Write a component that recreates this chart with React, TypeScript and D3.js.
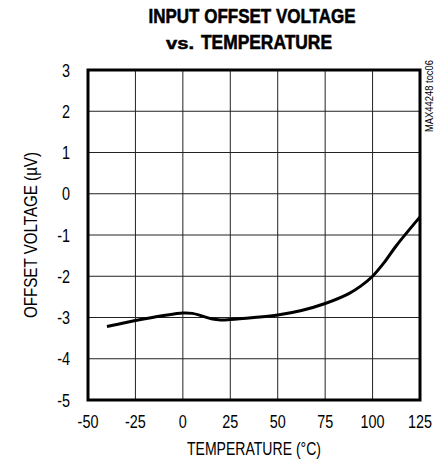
import { useEffect, useRef } from 'react'
import * as d3 from 'd3'

// temperature (°C) vs offset voltage (µV)
const temps = [-40, -30, -20, -10, 0, 5, 10, 15, 20, 25, 37.5, 50, 62.5, 75, 87.5, 93.75, 100, 106.25, 112.5, 125]
const offsets = [-3.22, -3.12, -3.03, -2.95, -2.89, -2.9, -2.96, -3.03, -3.06, -3.05, -3.0, -2.94, -2.83, -2.66, -2.42, -2.24, -2.0, -1.66, -1.26, -0.56]

const xTicks = [-50, -25, 0, 25, 50, 75, 100, 125]
const yTicks = [3, 2, 1, 0, -1, -2, -3, -4, -5]

const W = 446
const H = 464
const FONT = '"Liberation Sans", Arial, sans-serif'

// no narrow font installed, so squeeze text horizontally
function squeeze(sel: d3.Selection<SVGTextElement, any, any, any>, factor: number) {
  sel.each(function () {
    const len = this.getComputedTextLength()
    d3.select(this).attr('textLength', len * factor).attr('lengthAdjust', 'spacingAndGlyphs')
  })
}

export default function App() {
  const svgRef = useRef<SVGSVGElement>(null)

  useEffect(() => {
    if (!svgRef.current) return
    const svg = d3.select(svgRef.current)
    svg.selectAll('*').remove()

    const left = 88
    const right = 420
    const top = 70
    const bottom = 400

    const x = d3.scaleLinear().domain([-50, 125]).range([left, right])
    const y = d3.scaleLinear().domain([-5, 3]).range([bottom, top])

    // title
    svg
      .append('text')
      .attr('x', 252)
      .attr('y', 23)
      .attr('text-anchor', 'middle')
      .attr('font-family', FONT)
      .attr('font-weight', 'bold')
      .attr('font-size', '21px')
      .attr('stroke', '#000')
      .attr('stroke-width', 0.6)
      .attr('textLength', 207)
      .attr('lengthAdjust', 'spacingAndGlyphs')
      .text('INPUT OFFSET VOLTAGE')
    svg
      .append('text')
      .attr('x', 166)
      .attr('y', 49)
      .attr('font-family', FONT)
      .attr('font-weight', 'bold')
      .attr('font-size', '16px')
      .attr('stroke', '#000')
      .attr('stroke-width', 0.5)
      .attr('textLength', 28)
      .attr('lengthAdjust', 'spacingAndGlyphs')
      .text('vs.')
    svg
      .append('text')
      .attr('x', 201)
      .attr('y', 49)
      .attr('font-family', FONT)
      .attr('font-weight', 'bold')
      .attr('font-size', '21px')
      .attr('stroke', '#000')
      .attr('stroke-width', 0.6)
      .attr('textLength', 131)
      .attr('lengthAdjust', 'spacingAndGlyphs')
      .text('TEMPERATURE')

    // grid
    const g = svg.append('g')
    g.selectAll('.vgrid')
      .data(xTicks.slice(1, -1))
      .enter()
      .append('line')
      .attr('x1', (d) => x(d))
      .attr('x2', (d) => x(d))
      .attr('y1', top)
      .attr('y2', bottom)
      .attr('stroke', '#222')
      .attr('stroke-width', 1)
    g.selectAll('.hgrid')
      .data(yTicks.slice(1, -1))
      .enter()
      .append('line')
      .attr('x1', left)
      .attr('x2', right)
      .attr('y1', (d) => y(d))
      .attr('y2', (d) => y(d))
      .attr('stroke', '#222')
      .attr('stroke-width', 1)

    // curve
    const line = d3
      .line<number>()
      .x((_, i) => x(temps[i]))
      .y((d) => y(d))
      .curve(d3.curveCatmullRom.alpha(0.5))
    g.append('path')
      .datum(offsets)
      .attr('fill', 'none')
      .attr('stroke', '#000')
      .attr('stroke-width', 3)
      .attr('stroke-linejoin', 'round')
      .attr('d', line)

    // frame
    g.append('rect')
      .attr('x', left)
      .attr('y', top)
      .attr('width', right - left)
      .attr('height', bottom - top)
      .attr('fill', 'none')
      .attr('stroke', '#000')
      .attr('stroke-width', 3)

    // tick labels
    const xl = svg
      .selectAll<SVGTextElement, number>('.xlab')
      .data(xTicks)
      .enter()
      .append('text')
      .attr('x', (d) => x(d))
      .attr('y', 428)
      .attr('text-anchor', 'middle')
      .attr('font-family', FONT)
      .attr('font-size', '18px')
      .text((d) => d)
    squeeze(xl, 0.8)
    const yl = svg
      .selectAll<SVGTextElement, number>('.ylab')
      .data(yTicks)
      .enter()
      .append('text')
      .attr('x', 70)
      .attr('y', (d) => y(d) + 6.5)
      .attr('text-anchor', 'end')
      .attr('font-family', FONT)
      .attr('font-size', '18px')
      .text((d) => d)
    squeeze(yl, 0.8)

    // axis titles
    svg
      .append('text')
      .attr('x', 254)
      .attr('y', 455)
      .attr('text-anchor', 'middle')
      .attr('font-family', FONT)
      .attr('font-size', '18px')
      .attr('textLength', 134)
      .attr('lengthAdjust', 'spacingAndGlyphs')
      .text('TEMPERATURE (°C)')
    svg
      .append('text')
      .attr('transform', `translate(37,${(top + bottom) / 2}) rotate(-90)`)
      .attr('text-anchor', 'middle')
      .attr('font-family', FONT)
      .attr('font-size', '18px')
      .attr('textLength', 166)
      .attr('lengthAdjust', 'spacingAndGlyphs')
      .text('OFFSET VOLTAGE (µV)')

    // part number tag
    svg
      .append('text')
      .attr('transform', 'translate(433,132) rotate(-90)')
      .attr('font-family', FONT)
      .attr('font-size', '10px')
      .attr('textLength', 72)
      .attr('lengthAdjust', 'spacingAndGlyphs')
      .text('MAX44248 toc06')
  }, [])

  return (
    <svg
      ref={svgRef}
      width={W}
      height={H}
      style={{ display: 'block', position: 'absolute', left: 0, top: 0, background: '#fff' }}
    />
  )
}
